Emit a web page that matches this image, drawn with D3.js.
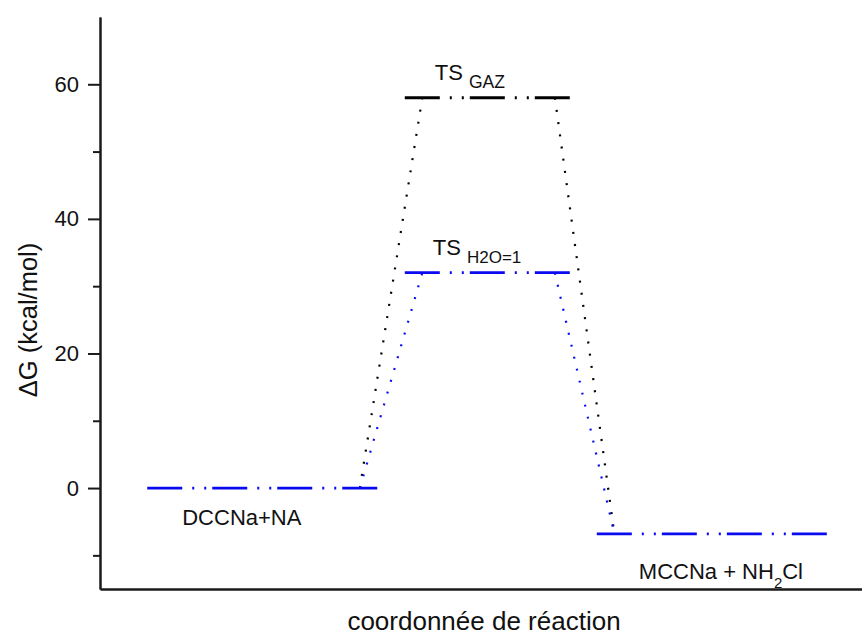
<!DOCTYPE html>
<html>
<head>
<meta charset="utf-8">
<script src="https://cdn.jsdelivr.net/npm/d3@7"></script>
<style>
  html, body { margin: 0; padding: 0; background: #fff; }
  svg { display: block; font-family: Arial, "Liberation Sans", sans-serif; }
</style>
</head>
<body>
<div id="chart"></div>
<script>
// ---------- data ----------
// energy levels (reaction coordinate in arbitrary units, ΔG in kcal/mol)
const levelNames  = ["DCCNa+NA", "TS GAZ", "TS H2O=1", "MCCNa + NH2Cl"];
const levelStart  = [0.62, 4.00, 4.00, 6.52];
const levelEnd    = [3.64, 6.17, 6.17, 9.54];
const levelEnergy = [0, 58, 32, -6.8];
const levelSeries = ["h2o", "gaz", "h2o", "h2o"];

// connecting paths (reactant -> TS, TS -> product)
const gazConnX = [3.41, 4.23, 5.97, 6.75];
const gazConnY = [0, 58, 58, -6.8];
const h2oConnX = [3.41, 4.23, 5.97, 6.75];
const h2oConnY = [0, 32, 32, -6.8];

const majorTicks = [0, 20, 40, 60];
const minorTicks = [-10, 10, 30, 50];

// ---------- styles ----------
const seriesColor = { gaz: "#000000", h2o: "#0a0af0" };
const W = 862, H = 635;

const svg = d3.select("#chart").append("svg").attr("width", W).attr("height", H);

const x = d3.scaleLinear().domain([0, 10]).range([100, 862]);
const y = d3.scaleLinear().domain([-15, 70]).range([589, 17]);

// ---------- axes ----------
const axisColor = "#1a1a1a";
const gMinor = svg.append("g").attr("transform", `translate(${x(0)},0)`)
  .call(d3.axisLeft(y).tickValues(minorTicks).tickSize(7).tickSizeOuter(0).tickFormat(""));
const gMajor = svg.append("g").attr("transform", `translate(${x(0)},0)`)
  .call(d3.axisLeft(y).tickValues(majorTicks).tickSize(12).tickSizeOuter(0).tickPadding(9));
[gMinor, gMajor].forEach(g => {
  g.selectAll("path.domain").attr("stroke", axisColor).attr("stroke-width", 2);
  g.selectAll(".tick line").attr("stroke", axisColor).attr("stroke-width", 2);
});
gMajor.attr("font-size", 22).attr("font-family", "Arial, 'Liberation Sans', sans-serif");
gMajor.selectAll(".tick text").attr("fill", "#111");

const gX = svg.append("g").attr("transform", `translate(0,${y(-15)})`)
  .call(d3.axisBottom(x).tickValues([]).tickSizeOuter(0));
gX.selectAll("path.domain").attr("stroke", axisColor).attr("stroke-width", 2.5);

// axis titles
svg.append("text")
  .attr("transform", `translate(37,${(y(70) + y(-15)) / 2 + 17}) rotate(-90)`)
  .attr("text-anchor", "middle").attr("font-size", 25.5).attr("fill", "#111")
  .text("ΔG (kcal/mol)");
svg.append("text")
  .attr("x", 484).attr("y", 630)
  .attr("text-anchor", "middle").attr("font-size", 26).attr("fill", "#111")
  .text("coordonnée de réaction");

// ---------- connectors (dotted) ----------
const line = d3.line().x(d => x(d[0])).y(d => y(d[1]));
function drawConnectors(cx, cy, color) {
  const left = [[cx[0], cy[0]], [cx[1], cy[1]]];
  const right = [[cx[2], cy[2]], [cx[3], cy[3]]];
  [left, right].forEach(seg => {
    svg.append("path").attr("d", line(seg))
      .attr("fill", "none").attr("stroke", color)
      .attr("stroke-width", 2.2).attr("stroke-dasharray", "2 10.3");
  });
}
drawConnectors(gazConnX, gazConnY, seriesColor.gaz);
drawConnectors(h2oConnX, h2oConnY, seriesColor.h2o);

// ---------- energy levels (dash-dot-dot) ----------
const order = [1, 0, 2, 3];
order.forEach(i => {
  svg.append("path")
    .attr("d", line([[levelStart[i], levelEnergy[i]], [levelEnd[i], levelEnergy[i]]]))
    .attr("fill", "none")
    .attr("stroke", seriesColor[levelSeries[i]])
    .attr("stroke-width", 2.8)
    .attr("stroke-dasharray", "35 10 2 10 2 6");
});

// ---------- labels ----------
// DCCNa+NA
svg.append("text").attr("x", x(levelStart[0]) + 35).attr("y", y(levelEnergy[0]) + 37)
  .attr("font-size", 22).attr("fill", "#111").text(levelNames[0]);

// TS GAZ
const tsG = svg.append("text").attr("x", x(levelStart[1]) + 30).attr("y", y(levelEnergy[1]) - 18)
  .attr("font-size", 22).attr("fill", "#111");
tsG.append("tspan").text("TS");
tsG.append("tspan").attr("dx", 6).attr("dy", 8).attr("font-size", 17.5).text("GAZ");

// TS H2O=1
const tsW = svg.append("text").attr("x", x(levelStart[2]) + 28).attr("y", y(levelEnergy[2]) - 18)
  .attr("font-size", 22).attr("fill", "#111");
tsW.append("tspan").text("TS");
tsW.append("tspan").attr("dx", 6).attr("dy", 8).attr("font-size", 17).text("H2O=1");

// MCCNa + NH2Cl
const pr = svg.append("text").attr("x", x(levelStart[3]) + 42).attr("y", y(levelEnergy[3]) + 45)
  .attr("font-size", 22).attr("fill", "#111");
pr.append("tspan").text("MCCNa + NH");
pr.append("tspan").attr("dy", 9).attr("font-size", 15).text("2");
pr.append("tspan").attr("dy", -9).text("Cl");
</script>
</body>
</html>
